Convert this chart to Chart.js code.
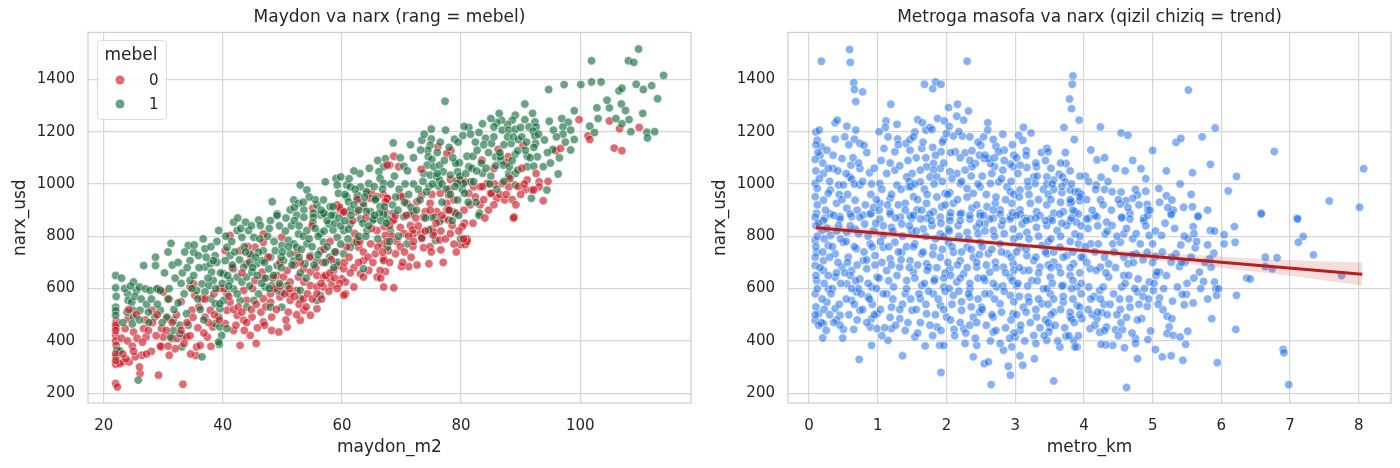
<!DOCTYPE html>
<html>
<head>
<meta charset="utf-8">
<script src="https://cdn.jsdelivr.net/npm/chart.js@4.4.1/dist/chart.umd.min.js"></script>
<style>
  html, body { margin: 0; padding: 0; background: #fff; }
  #wrap { position: relative; width: 1400px; height: 468px; }
  canvas { position: absolute; top: 0; }
</style>
</head>
<body>
<div id="wrap">
  <canvas id="areaChart" width="700" height="468" style="left:0"></canvas>
  <canvas id="metroChart" width="700" height="468" style="left:700px"></canvas>
</div>
<script>
// --- Ma'lumotlar (rasmdan taxminan o'qilgan) ---
// [maydon_m2, narx_usd], mebel = 0
const mebel0 = [
  [99.8,1246],[104.9,1241],[106.6,1211],[109.9,1216],[101.3,1184],[101.6,1170],[105.7,1137],[107.0,1127],
  [95.9,1127],[96.7,1136],[93.8,936],[88.9,874],[68.7,1106],[68.0,1072],[69.5,1066],[76.1,1142],[78.3,1127],
  [83.5,1091],[86.2,1132],[87.9,1104],[87.6,1081],[90.4,1148],[85.5,1059],[90.8,979],[91.9,977],[93.1,1008],
  [93.1,989],[77.9,958],[76.5,964],[75.1,960],[78.2,1017],[79.2,1012],[67.0,958],[67.6,945],[69.8,951],
  [70.9,926],[72.6,932],[73.4,958],[74.8,926],[72.0,894],[74.0,894],[75.9,894],[77.6,901],[78.8,939],
  [79.9,1015],[81.3,964],[80.7,1008],[82.1,989],[83.2,989],[84.4,1002],[84.9,964],[86.0,945],[86.9,1002],
  [88.0,989],[92.2,977],[85.5,920],[83.2,920],[67.3,892],[68.7,860],[69.8,834],[71.5,841],[72.0,809],
  [73.2,815],[75.1,828],[75.4,815],[73.7,873],[75.7,873],[77.1,866],[77.9,862],[78.5,841],[80.6,850],
  [81.0,790],[79.9,768],[80.7,768],[76.6,748],[74.6,695],[73.7,756],[71.9,761],[71.2,684],[70.0,684],
  [68.7,603],[67.3,665],[69.0,733],[67.0,714],[67.8,745],[66.7,771],[88.8,870],[55.1,907],[59.2,920],
  [59.7,901],[60.3,894],[64.2,964],[65.0,964],[65.9,951],[64.8,945],[67.6,1072],[67.6,945],[67.3,932],
  [63.6,913],[62.5,894],[22.1,475],[22.1,451],[22.0,421],[22.0,400],[22.1,383],[22.0,311],[22.0,237],
  [22.3,224],[23.3,320],[24.3,320],[23.7,332],[22.7,313],[24.1,485],[23.6,447],[25.0,434],[26.7,447],
  [27.1,415],[28.1,517],[29.7,447],[30.0,415],[30.6,485],[31.4,409],[31.0,345],[29.7,377],[26.4,345],
  [25.3,339],[26.1,275],[29.2,269],[33.3,234],[32.3,409],[33.4,418],[33.9,415],[35.6,377],[36.2,383],
  [35.5,344],[34.8,517],[35.3,574],[36.5,561],[34.5,606],[35.1,618],[29.2,599],[30.0,587],[37.9,517],
  [37.0,491],[38.3,453],[37.4,415],[38.0,379],[41.2,803],[40.4,745],[42.9,745],[46.8,809],[46.8,777],
  [45.4,758],[44.6,726],[44.0,695],[49.9,796],[52.4,733],[53.6,676],[54.7,663],[55.8,650],[56.9,644],
  [58.0,637],[58.6,669],[59.4,688],[60.3,676],[60.0,637],[60.6,580],[58.3,612],[56.9,606],[53.6,625],
  [54.7,612],[55.8,606],[53.6,517],[53.0,479],[55.8,523],[54.7,498],[48.2,440],[49.4,434],[50.8,453],
  [42.9,383],[45.6,390],[44.6,421],[46.8,472],[48.2,491],[46.8,561],[48.0,548],[49.6,568],[51.3,555],
  [51.3,580],[52.4,593],[49.1,650],[50.2,644],[51.3,625],[52.7,644],[50.8,669],[46.6,663],[45.4,631],
  [44.0,555],[43.5,593],[40.7,517],[41.2,548],[42.4,498],[43.5,479],[44.9,491],[40.4,466],[41.8,440],
  [62.0,777],[62.8,758],[64.8,771],[65.6,733],[67.0,707],[66.4,669],[67.3,803],[65.9,822],[63.6,707],
  [63.1,657],[63.6,644],[64.5,669],[65.9,644],[67.0,606],[60.6,625],[62.0,606],[60.3,574],[59.6,911],
  [60.3,893],[62.1,811],[62.6,786],[70.1,952],[68.6,862],[67.1,837],[70.4,811],[71.9,824],[73.4,792],
  [75.3,805],[76.4,786],[77.6,926],[79.1,888],[80.2,837],[83.6,990],[85.1,964],[87.3,939],[89.6,990],
  [91.1,1015],[73.3,1056],[77.6,1116],
  [22.0,460],[22.0,440],[22.0,350],[22.0,325],[23.0,410],[24.0,400],[24.8,380],[25.6,410],[26.5,395],
  [27.5,440],[28.2,470],[28.8,420],[29.5,380],[28.0,360],[26.0,300],[27.2,350],[23.2,350],[25.0,360],
  [29.0,500],[27.0,480],[25.5,500],[24.2,520],[30.5,440],[31.5,470],[32.2,500],[33.0,440],[34.0,470],
  [34.5,420],[35.0,490],[35.8,450],[36.8,430],[37.6,470],[38.6,500],[39.4,480],[33.5,390],[34.6,350],
  [32.0,370],[30.8,380],[36.0,530],[37.0,560],[38.5,580],[39.5,600],[33.0,550],[31.0,560],[40.2,600],
  [41.0,570],[41.8,520],[42.6,530],[43.2,510],[44.0,470],[44.8,520],[45.6,540],[46.4,510],[47.2,530],
  [48.0,580],[48.8,600],[49.6,610],[47.0,460],[45.8,450],[43.6,440],[42.2,460],[49.0,520],[48.4,640],
  [46.8,640],[45.0,600],[43.2,660],[41.6,680],[44.2,760],[47.6,720],[49.6,700],[50.4,580],[51.2,600],
  [52.0,570],[52.8,540],[53.5,560],[54.2,580],[55.0,560],[55.8,580],[56.5,620],[57.2,650],[58.0,660],
  [58.8,640],[59.6,620],[59.2,600],[57.8,590],[56.6,560],[54.0,530],[52.4,500],[51.0,510],[50.6,480],
  [53.0,700],[55.6,680],[56.8,700],[58.2,710],[59.0,740],[57.0,750],[54.6,720],[52.0,690],[55.0,840],
  [58.0,780],[60.4,700],[61.2,720],[62.0,680],[62.8,700],[63.6,740],[64.4,720],[65.2,700],[66.0,760],
  [66.8,740],[67.6,780],[68.4,800],[69.2,780],[69.8,760],[68.0,700],[66.5,640],[61.4,660],[60.8,760],
  [63.0,780],[65.0,830],[68.0,840],[69.0,880],[61.8,860],[64.0,870],[62.6,940],[70.5,740],[71.2,800],
  [72.0,780],[72.8,840],[74.0,820],[74.8,760],[75.8,850],[76.6,820],[77.4,790],[78.2,810],[78.8,770],
  [79.6,820],[70.8,880],[72.4,870],[74.8,900],[76.8,880],[78.0,900],[70.2,700],[71.6,720],[72.6,690],
  [75.0,740],[77.0,700],[79.2,740],[78.0,980],[80.5,900],[81.5,920],[82.4,950],[83.8,940],[84.6,900],
  [86.5,960],[87.6,960],[88.6,940],[89.2,920],[90.0,960],[90.6,1000],[92.6,1040],[82.0,850],[84.0,870],
  [81.0,780],[80.4,790],[85.6,1000],[88.2,1020],[90.2,1060],[94.6,1010]
];
// [maydon_m2, narx_usd], mebel = 1
const mebel1 = [
  [109.8,1516],[101.9,1471],[108.1,1471],[109.0,1465],[114.0,1415],[97.3,1380],[100.1,1380],[101.9,1390],
  [103.5,1390],[94.7,1361],[109.4,1381],[110.6,1361],[112.0,1376],[106.5,1356],[107.0,1366],[77.3,1316],
  [113.0,1326],[90.7,1306],[102.8,1291],[104.9,1291],[106.9,1306],[107.6,1281],[108.2,1246],[107.0,1230],
  [101.6,1221],[102.4,1197],[111.2,1198],[111.3,1176],[96.9,1250],[98.0,1236],[95.5,1206],[97.1,1218],
  [98.4,1206],[97.1,1190],[90.7,1246],[92.4,1237],[89.1,1263],[88.6,1244],[87.8,1228],[86.8,1244],
  [86.0,1234],[85.5,1218],[86.9,1206],[88.0,1206],[89.1,1209],[90.0,1216],[91.4,1218],[92.6,1218],
  [92.1,1202],[92.4,1183],[94.0,1168],[98.4,1130],[95.4,1132],[91.1,1066],[68.6,1157],[67.3,1097],
  [67.0,1066],[70.4,1068],[73.4,1167],[75.0,1172],[74.8,1148],[74.4,1129],[77.4,1206],[78.9,1171],
  [80.3,1185],[81.3,1216],[83.0,1197],[84.1,1175],[85.1,1155],[74.5,1104],[75.1,1094],[74.3,1072],
  [75.4,1066],[76.4,1072],[77.0,1047],[73.7,1040],[74.8,1034],[75.9,1028],[78.2,1034],[79.4,1047],
  [79.7,1081],[81.0,1106],[82.0,1106],[82.7,1129],[85.8,1104],[86.7,1091],[88.4,1155],[89.1,1114],
  [89.5,1127],[91.1,1106],[90.8,1129],[92.5,1155],[93.8,1066],[92.8,1104],[87.1,1072],[88.0,1040],
  [89.1,1040],[89.5,1053],[89.1,996],[88.0,1027],[92.2,1068],[94.4,977],[91.8,945],[96.3,1038],
  [81.6,1008],[83.1,888],[80.2,979],[80.4,1002],[79.4,1002],[76.2,992],[83.0,879],[79.9,790],
  [75.7,784],[73.4,796],[70.9,771],[67.6,758],[75.1,873],[78.8,892],[67.6,866],[68.1,822],[71.5,885],
  [48.3,932],[49.1,885],[53.0,996],[54.1,977],[51.9,939],[52.7,926],[53.6,901],[57.2,1008],[59.0,1021],
  [59.8,1027],[59.2,996],[60.8,996],[61.4,989],[59.4,964],[60.8,951],[62.5,945],[63.1,989],[64.5,1002],
  [66.2,1047],[66.4,1021],[65.6,945],[66.4,913],[67.0,1002],[55.8,920],[56.9,939],[58.0,913],[56.4,881],
  [58.6,881],[55.2,888],[61.4,901],[63.6,926],[64.8,894],[52.4,881],[51.3,901],[22.0,650],[22.0,603],
  [22.1,570],[22.0,529],[22.0,515],[22.0,498],[22.2,364],[22.1,339],[22.7,362],[24.0,580],[25.0,625],
  [24.1,555],[24.7,548],[25.5,593],[26.7,688],[28.7,720],[28.7,688],[31.3,773],[26.0,606],[27.0,599],
  [27.8,593],[28.9,599],[29.5,593],[24.9,517],[23.9,510],[25.0,491],[26.1,517],[27.5,510],[28.6,491],
  [29.5,517],[30.6,491],[31.7,479],[32.8,460],[33.9,504],[25.8,250],[31.2,415],[33.1,377],[36.5,339],
  [31.7,440],[32.8,428],[34.2,460],[35.6,593],[36.5,618],[34.5,631],[35.1,650],[34.5,707],[35.1,739],
  [35.9,726],[37.0,752],[37.0,682],[37.9,695],[38.7,726],[39.0,701],[39.3,822],[34.2,765],[35.2,767],
  [36.7,790],[38.4,707],[38.1,663],[38.4,631],[37.6,612],[37.0,587],[38.0,561],[38.7,542],[39.5,523],
  [39.3,491],[38.7,466],[39.5,453],[39.4,387],[39.8,421],[40.7,758],[41.2,726],[40.4,707],[41.8,854],
  [43.8,854],[42.4,822],[43.2,796],[44.3,822],[45.2,796],[46.0,862],[46.3,841],[48.0,860],[49.1,879],
  [46.8,745],[48.0,720],[48.8,745],[49.9,765],[51.0,784],[51.9,771],[52.7,809],[54.1,822],[55.2,873],
  [56.9,885],[53.6,873],[57.8,847],[42.4,644],[43.2,625],[41.8,599],[44.0,644],[44.9,663],[45.7,695],
  [46.6,707],[47.7,676],[49.1,688],[50.2,707],[51.3,733],[52.4,758],[54.1,771],[54.7,726],[56.4,745],
  [56.9,777],[59.2,796],[60.3,822],[61.4,847],[63.1,866],[64.2,822],[62.5,777],[61.4,758],[60.3,733],
  [59.2,701],[57.9,720],[55.8,707],[53.8,695],[51.9,707],[50.8,612],[49.9,587],[49.1,593],[48.2,612],
  [47.1,606],[46.0,580],[45.2,555],[44.0,529],[42.9,555],[42.4,580],[40.7,580],[40.1,555],[41.2,631],
  [40.1,657],[41.8,676],[43.5,682],[44.6,733],[46.0,739],[53.0,561],[53.0,593],[56.4,574],[55.8,555],
  [49.9,529],[48.0,529],[39.5,542],[40.7,447],[39.3,396],[63.6,676],[65.3,866],[67.0,885],[61.1,827],
  [58.5,824],[56.4,811],[55.1,852],[57.0,888],[58.5,913],[61.1,932],[62.6,958],[64.1,971],[65.6,939],
  [67.1,913],[68.6,888],[70.4,875],[71.6,911],[73.1,939],[74.6,990],[76.4,1015],[74.6,824],[76.4,856],
  [77.9,901],[79.4,939],[80.6,964],[82.1,1009],[83.6,1041],[81.3,1066],[79.1,1079],[86.6,1105],
  [88.1,1066],[64.1,895],[65.2,862],[66.3,888],
  [23.0,640],[23.5,600],[24.5,610],[25.2,570],[26.3,560],[27.2,540],[28.0,560],[29.0,540],[23.2,470],
  [24.8,465],[26.0,480],[27.6,470],[29.8,470],[30.8,560],[31.8,520],[32.5,545],[33.5,580],[31.0,600],
  [32.0,640],[33.0,620],[30.2,660],[31.5,690],[32.5,700],[33.2,660],[34.0,680],[34.8,600],[35.8,560],
  [36.2,520],[36.8,480],[37.5,640],[38.8,600],[39.6,660],[39.9,620],[36.0,680],[37.2,720],[38.0,760],
  [39.0,780],[33.6,740],[30.8,740],[40.5,800],[41.5,780],[42.0,740],[42.8,710],[43.6,760],[44.5,700],
  [45.0,680],[45.8,650],[46.5,620],[47.2,640],[47.8,600],[48.5,650],[49.5,620],[49.8,680],[48.6,780],
  [47.5,800],[46.2,790],[44.8,840],[43.0,830],[42.5,870],[47.8,830],[49.5,840],[49.8,720],[47.0,700],
  [45.5,720],[43.8,740],[41.6,690],[40.8,650],[41.0,610],[44.5,610],[50.5,820],[51.5,840],[52.0,860],
  [52.8,840],[53.5,800],[54.5,790],[55.5,830],[56.0,800],[57.0,820],[57.5,860],[58.2,880],[58.8,850],
  [59.5,870],[59.8,840],[56.5,900],[55.5,940],[54.5,950],[53.5,930],[52.0,910],[50.6,870],[51.0,760],
  [52.8,720],[53.2,750],[55.0,760],[56.0,730],[57.5,760],[58.8,740],[59.8,770],[57.2,700],[58.6,680],
  [55.3,690],[50.0,740],[51.6,690],[53.0,660],[54.0,640],[60.5,860],[61.5,880],[62.0,920],[62.8,900],
  [63.5,850],[64.5,840],[65.5,880],[66.5,860],[67.5,850],[68.5,920],[69.0,950],[69.6,980],[68.2,1000],
  [66.8,980],[65.4,990],[63.8,950],[62.2,980],[61.2,1020],[63.0,1040],[64.6,1060],[66.0,1090],[68.8,1030],
  [69.8,1100],[69.4,900],[61.0,790],[62.8,800],[64.0,800],[66.0,790],[68.0,780],[69.5,800],[60.5,960],
  [62.0,1050],[70.5,930],[71.2,960],[72.0,1000],[72.8,980],[73.6,1010],[74.2,970],[75.2,1000],[76.0,1040],
  [76.8,1000],[77.5,980],[78.2,960],[79.0,990],[79.8,1030],[78.6,1100],[77.2,1090],[76.0,1120],[75.0,1210],
  [73.2,1130],[72.0,1100],[71.0,1050],[70.6,1000],[72.5,900],[74.0,870],[76.8,930],[78.5,860],[79.6,880],
  [71.5,1150],[73.8,1190],[76.5,1160],[78.0,1140],[79.5,1160],[80.8,1040],[81.8,1060],[82.6,1050],
  [83.4,1080],[84.2,1060],[85.0,1030],[85.8,1070],[86.5,1120],[87.2,1150],[87.8,1180],[88.8,1180],
  [84.6,1120],[83.8,1150],[82.4,1160],[81.6,1190],[80.5,1220],[83.6,1230],[85.0,1250],[86.4,1270],
  [84.8,1000],[86.0,980],[87.2,1010],[88.6,1090],[89.6,1170],[82.5,930],[81.2,930],[85.5,1180],
  [90.2,1180],[91.0,1160],[91.6,1100],[92.2,1140],[93.0,1190],[94.5,1120],[95.0,1080],[96.0,1180],
  [97.5,1160],[99.0,1170],[96.5,1100],[94.8,1240],[99.0,1280],[92.0,1270],[103.0,1250],[104.5,1320],
  [106.0,1250],[110.5,1270],[112.5,1200],[108.5,1200]
];
// [metro_km, narx_usd]
const metroPts = [
  [0.18,1469],[0.59,1514],[0.60,1465],[0.65,1387],[0.66,1361],[0.78,1352],[0.68,1315],[2.30,1469],
  [1.68,1381],[1.80,1364],[1.84,1390],[1.92,1381],[3.84,1413],[3.83,1381],[3.79,1325],[3.82,1288],
  [3.93,1244],[3.86,1170],[3.71,1216],[1.19,1305],[1.12,1241],[1.11,1216],[1.28,1228],[1.29,1172],
  [1.41,1155],[1.47,1170],[1.54,1199],[1.58,1246],[1.65,1234],[1.70,1206],[1.76,1216],[1.79,1208],
  [1.87,1250],[1.97,1241],[2.03,1292],[2.16,1305],[2.32,1279],[2.15,1259],[2.25,1244],[2.10,1183],
  [2.23,1183],[1.96,1170],[2.00,1193],[2.60,1234],[2.60,1206],[2.50,1148],[2.72,1144],[2.84,1129],
  [2.76,1123],[1.09,1136],[1.25,1123],[1.47,1129],[1.64,1136],[1.92,1123],[2.13,1123],[2.27,1119],
  [2.37,1127],[0.38,1234],[0.41,1244],[0.55,1221],[0.68,1206],[0.38,1171],[0.66,1171],[0.74,1155],
  [0.80,1148],[0.10,1199],[0.15,1206],[0.12,1167],[0.18,1142],[0.16,1110],[0.09,1094],[0.26,1129],
  [0.35,1110],[0.48,1097],[0.61,1072],[0.74,1059],[0.88,1043],[0.59,1027],[0.35,1059],[0.21,1040],
  [0.09,1002],[0.12,983],[0.31,977],[0.43,996],[0.50,996],[0.62,1019],[0.74,996],[0.91,1000],
  [1.03,1002],[3.05,1186],[3.12,1216],[3.23,1195],[3.11,1167],[3.16,1127],[3.38,1120],[3.46,1136],
  [3.48,1123],[3.73,1120],[3.74,1078],[3.64,1037],[3.69,1027],[3.56,1015],[3.46,1027],[3.31,1066],
  [3.27,1027],[3.17,1063],[3.07,1072],[2.97,1066],[2.93,1076],[2.82,1053],[2.70,1066],[2.64,1078],
  [2.55,1097],[2.61,1097],[2.42,1078],[2.37,1066],[2.27,1053],[2.15,1040],[2.05,1047],[1.91,1059],
  [1.81,1078],[1.81,1053],[1.71,1066],[1.62,1053],[1.50,1040],[1.42,1027],[1.25,1053],[1.13,1040],
  [1.28,996],[1.45,989],[1.62,1008],[1.76,1027],[1.86,1027],[1.98,964],[2.05,967],[2.20,1002],
  [2.30,983],[2.39,964],[2.49,989],[2.64,1002],[2.76,1008],[2.88,989],[2.93,970],[3.07,977],
  [3.19,989],[3.29,1002],[3.41,979],[3.56,979],[3.68,967],[3.80,977],[3.73,1008],[0.09,951],
  [0.21,938],[0.28,964],[0.40,926],[0.55,907],[0.67,938],[0.79,881],[0.91,888],[1.03,926],[1.18,945],
  [1.30,920],[1.18,894],[1.40,926],[1.52,951],[1.57,901],[1.71,926],[1.81,894],[1.93,913],[2.10,926],
  [2.22,888],[2.37,907],[2.49,888],[2.59,913],[2.71,926],[2.78,901],[2.95,926],[3.07,901],[3.22,926],
  [3.31,894],[3.46,920],[3.56,888],[3.70,894],[3.80,926],[3.87,894],[0.11,888],[0.23,869],[0.45,875],
  [0.62,875],[1.49,869],[1.71,869],[2.05,875],[2.68,869],[2.93,875],[3.14,869],
  [0.09,873],[0.21,860],[0.31,885],[0.45,866],[0.60,885],[0.74,873],[0.89,885],[1.03,866],[1.18,885],
  [1.33,873],[1.47,879],[1.62,866],[1.76,885],[1.91,873],[2.05,860],[2.20,885],[2.34,866],[2.49,879],
  [2.63,866],[2.78,885],[2.93,866],[3.07,885],[3.22,866],[3.36,879],[3.51,866],[3.65,885],[3.80,860],
  [3.92,885],[0.10,841],[0.19,822],[0.31,803],[0.43,841],[0.55,815],[0.67,828],[0.81,847],[0.94,822],
  [1.08,803],[1.20,834],[1.35,847],[1.49,822],[1.66,828],[1.79,841],[1.91,809],[2.03,828],[2.17,841],
  [2.30,815],[2.44,834],[2.56,847],[2.68,822],[2.80,841],[2.97,828],[3.10,847],[3.17,815],[3.31,834],
  [3.46,841],[3.61,822],[3.75,841],[3.87,809],[0.09,784],[0.11,739],[0.21,707],[0.28,765],[0.38,733],
  [0.50,777],[0.57,720],[0.69,752],[0.79,707],[0.89,771],[0.96,726],[1.08,758],[1.18,714],[1.25,777],
  [1.35,739],[1.47,707],[1.54,771],[1.64,733],[1.71,695],[1.81,758],[1.91,720],[2.03,777],[2.10,739],
  [2.20,707],[2.30,758],[2.39,720],[2.49,777],[2.61,733],[2.71,701],[2.78,771],[2.88,733],[2.97,695],
  [3.07,758],[3.17,726],[3.27,707],[3.39,765],[3.46,733],[3.56,701],[3.65,758],[3.75,726],[3.85,695],
  [3.92,771],[0.09,688],[0.21,669],[0.11,631],[0.28,599],[0.38,644],[0.48,682],[0.55,618],[0.62,669],
  [0.74,637],[0.84,676],[0.91,606],[0.99,644],[1.13,669],[1.23,606],[1.32,682],[1.42,631],[1.52,663],
  [1.64,612],[1.74,682],[1.83,637],[1.96,606],[2.05,676],[2.15,625],[2.25,657],[2.34,599],[2.44,682],
  [2.56,631],[2.63,663],[2.73,606],[2.83,682],[2.93,644],[3.02,612],[3.12,669],[3.24,631],[3.36,682],
  [3.41,599],[3.51,644],[3.63,682],[3.70,612],[3.80,650],[3.90,606],[0.09,580],[0.26,548],[0.38,523],
  [0.14,504],[0.09,479],[0.21,466],[0.45,498],[0.62,555],[0.74,517],[0.69,587],[0.86,568],[0.99,504],
  [0.91,485],[1.13,580],[1.20,529],[1.32,485],[1.40,580],[1.50,517],[1.62,561],[1.71,504],[1.81,580],
  [1.91,536],[2.00,491],[2.10,574],[2.22,517],[2.34,568],[2.39,491],[2.51,529],[2.63,580],[2.68,491],
  [2.78,542],[2.93,574],[2.97,504],[3.12,529],[3.19,568],[3.31,491],[3.39,542],[3.51,580],[3.56,510],
  [3.70,548],[3.80,491],[3.90,536],[0.20,411],[0.50,444],[0.65,444],[0.49,411],[0.91,383],[0.73,329],
  [0.89,453],[0.99,447],[1.15,402],[1.20,447],[1.36,343],[1.54,415],[1.69,381],[1.86,453],[1.90,383],
  [1.96,383],[1.92,279],[2.11,444],[2.27,390],[2.39,339],[2.44,383],[2.55,313],[2.61,320],[2.65,233],
  [2.68,434],[2.83,364],[2.90,303],[2.93,269],[2.95,377],[3.00,415],[3.07,343],[3.11,307],[3.28,332],
  [3.46,402],[3.51,453],[3.56,247],[3.65,377],[3.74,418],[3.90,377],[3.85,402],[2.25,447],[3.07,440],
  [3.27,421],[3.49,434],
  [4.24,1218],[5.52,1359],[4.54,1195],[4.64,1186],[5.91,1214],[5.34,1159],[5.41,1174],[5.72,1180],
  [5.00,1128],[4.19,1092],[4.71,1090],[4.83,1058],[6.77,1124],[5.58,1043],[5.84,1075],[6.22,1029],
  [8.07,1058],[4.02,1030],[4.07,1009],[4.25,1026],[4.35,1009],[4.18,996],[4.17,979],[4.30,979],
  [4.41,970],[3.87,970],[3.92,970],[4.54,969],[4.75,979],[4.90,972],[4.78,958],[4.71,945],[4.61,936],
  [4.53,923],[4.24,939],[3.94,936],[3.82,932],[5.09,983],[5.20,955],[5.28,939],[4.92,922],[4.93,900],
  [5.45,911],[5.58,913],[5.27,888],[5.30,900],[5.66,879],[6.10,973],[6.58,889],[7.10,869],[7.57,935],
  [8.01,911],[3.84,900],[4.07,869],[4.19,875],[4.55,869],[4.67,888],[4.87,869],
  [6.58,885],[7.11,866],[7.19,799],[7.12,777],[7.34,729],[6.64,720],[6.81,718],[6.64,684],[6.74,676],
  [6.37,640],[6.42,637],[7.75,650],[6.22,574],[6.21,444],[6.90,367],[6.91,355],[6.98,233],[6.19,837],
  [6.20,777],[6.04,806],[6.04,771],[5.84,822],[5.80,767],[5.89,735],[5.83,714],[5.85,682],[5.68,663],
  [5.74,627],[5.90,625],[5.92,599],[5.93,574],[5.86,485],[5.94,317],[5.59,837],[5.52,790],[5.41,767],
  [5.62,756],[5.66,875],[5.27,883],[5.13,803],[5.34,733],[5.27,701],[5.39,684],[5.47,701],[5.20,650],
  [5.10,663],[5.05,650],[5.36,606],[5.49,578],[5.43,578],[5.29,552],[5.46,538],[5.59,545],[5.10,564],
  [5.15,519],[5.21,494],[5.28,485],[5.24,453],[5.21,428],[5.30,421],[5.40,415],[5.51,437],[5.48,387],
  [5.14,339],[5.27,343],[5.44,326],[5.04,367],[4.97,438],[4.93,405],[4.75,409],[4.75,390],[4.78,332],
  [4.62,222],[4.59,374],[4.42,383],[4.32,385],[4.25,387],[3.87,377],[4.09,447],[4.23,433],[4.33,453],
  [4.46,443],[4.56,443],[4.54,470],[4.84,485],[4.92,532],[4.67,529],[4.53,520],[4.19,485],[3.97,485],
  [3.82,485],[4.26,508],[4.29,540],[4.12,501],[4.07,606],[4.15,570],[4.23,593],[4.43,580],[4.55,606],
  [4.78,587],[4.86,570],[5.01,593],[4.95,625],[4.79,637],[4.58,650],[4.36,644],[4.28,606],[4.09,676],
  [4.24,682],[4.36,695],[4.65,650],[5.06,663],[3.84,631],[3.94,529],[3.99,720],[4.10,771],[4.21,771],
  [4.31,809],[4.42,771],[4.53,777],[4.58,809],[4.71,790],[4.82,771],[4.95,803],[5.00,771],[4.92,739],
  [4.64,695],[4.76,733],[4.70,729],[5.04,723],[3.89,854],[4.04,866],[4.16,879],[4.33,854],[4.41,841],
  [4.55,873],[4.67,866],[4.87,860],[4.93,879],
  [0.10,1150],[0.13,1120],[0.20,1080],[0.28,1060],[0.42,1050],[0.10,1050],[0.15,1020],[0.30,1010],
  [0.44,960],[0.12,920],[0.24,900],[0.36,880],[0.48,940],[0.14,850],[0.26,830],[0.40,820],[0.12,800],
  [0.22,790],[0.34,760],[0.46,790],[0.10,760],[0.20,740],[0.30,720],[0.42,700],[0.09,720],[0.16,680],
  [0.28,650],[0.40,660],[0.10,650],[0.22,620],[0.34,600],[0.46,620],[0.12,600],[0.19,560],[0.32,580],
  [0.44,540],[0.10,530],[0.22,520],[0.30,500],[0.40,480],[0.09,500],[0.18,470],[0.14,460],[0.45,460],
  [0.25,440],[0.36,470],[0.52,1180],[0.58,1150],[0.64,1100],[0.72,1080],[0.84,1120],[0.95,1060],
  [0.54,1040],[0.66,1000],[0.78,1010],[0.90,960],[0.98,940],[0.56,960],[0.70,900],[0.82,920],[0.94,910],
  [0.60,840],[0.72,810],[0.86,800],[0.97,850],[0.54,780],[0.66,760],[0.80,740],[0.92,760],[0.56,700],
  [0.70,690],[0.84,710],[0.96,690],[0.60,650],[0.72,600],[0.86,620],[0.98,600],[0.54,560],[0.66,540],
  [0.78,520],[0.92,540],[0.58,500],[0.70,480],[0.84,470],[0.95,500],[0.62,600],[0.76,580],[0.88,560],
  [0.52,660],[0.68,630],[1.02,1200],[1.15,1180],[1.30,1150],[1.44,1090],[1.05,1090],[1.18,1080],
  [1.32,1070],[1.46,1010],[1.06,980],[1.20,960],[1.34,980],[1.48,990],[1.02,900],[1.14,920],[1.26,870],
  [1.40,900],[1.08,840],[1.22,820],[1.36,800],[1.46,840],[1.04,780],[1.16,760],[1.30,740],[1.42,760],
  [1.06,700],[1.20,690],[1.34,710],[1.46,680],[1.02,640],[1.16,630],[1.28,650],[1.42,600],[1.08,580],
  [1.22,560],[1.36,540],[1.48,560],[1.04,520],[1.18,490],[1.32,520],[1.44,470],[1.10,450],[1.26,460],
  [1.40,440],[1.06,420],[1.52,1180],[1.66,1160],[1.80,1140],[1.94,1160],[1.56,1100],[1.70,1100],
  [1.84,1110],[1.96,1080],[1.54,1000],[1.68,980],[1.82,1000],[1.94,1010],[1.58,940],[1.72,960],
  [1.86,950],[1.98,920],[1.52,880],[1.64,900],[1.78,860],[1.92,850],[1.56,820],[1.70,800],[1.84,790],
  [1.96,800],[1.52,760],[1.66,740],[1.80,730],[1.94,750],[1.58,690],[1.72,670],[1.86,680],[1.98,660],
  [1.54,640],[1.68,620],[1.82,630],[1.96,640],[1.60,580],[1.74,590],[1.88,560],[1.98,590],[1.56,520],
  [1.70,540],[1.84,500],[1.96,520],[1.62,470],[1.76,460],[1.92,440],[1.58,430],[1.80,420],[2.04,1220],
  [2.18,1200],[2.34,1180],[2.46,1160],[2.06,1120],[2.20,1100],[2.34,1090],[2.48,1110],[2.08,1020],
  [2.22,1010],[2.36,1030],[2.46,1000],[2.02,960],[2.16,940],[2.30,950],[2.44,920],[2.06,890],[2.20,860],
  [2.34,880],[2.48,850],[2.04,820],[2.18,800],[2.32,790],[2.46,810],[2.08,760],[2.22,740],[2.36,750],
  [2.48,730],[2.02,700],[2.16,690],[2.30,680],[2.44,700],[2.06,650],[2.20,640],[2.34,620],[2.46,640],
  [2.04,600],[2.18,590],[2.32,580],[2.46,560],[2.08,540],[2.22,550],[2.36,530],[2.48,510],[2.06,480],
  [2.20,470],[2.34,460],[2.44,470],[2.12,420],[2.28,430],[2.42,410],[2.54,1180],[2.68,1170],[2.82,1190],
  [2.96,1150],[2.56,1110],[2.70,1100],[2.84,1090],[2.98,1110],[2.52,1030],[2.66,1040],[2.80,1020],
  [2.94,1010],[2.58,960],[2.72,950],[2.86,940],[2.98,960],[2.54,880],[2.68,900],[2.82,860],[2.96,890],
  [2.56,820],[2.70,800],[2.84,810],[2.98,790],[2.52,760],[2.66,750],[2.80,740],[2.94,720],[2.58,690],
  [2.72,680],[2.86,660],[2.98,670],[2.54,640],[2.68,620],[2.82,610],[2.96,630],[2.56,580],[2.70,560],
  [2.84,590],[2.98,550],[2.52,520],[2.66,500],[2.80,510],[2.94,480],[2.58,460],[2.72,440],[2.86,450],
  [2.98,430],[2.64,400],[2.78,390],[2.92,410],[3.02,1100],[3.16,1110],[3.30,1080],[3.44,1090],[3.04,1040],
  [3.18,1010],[3.32,1030],[3.46,1000],[3.06,950],[3.20,960],[3.34,940],[3.48,960],[3.02,880],[3.16,860],
  [3.30,870],[3.44,860],[3.06,800],[3.20,790],[3.34,800],[3.48,780],[3.02,740],[3.16,750],[3.30,720],
  [3.44,740],[3.06,680],[3.20,670],[3.34,660],[3.48,690],[3.04,620],[3.18,610],[3.32,630],[3.46,600],
  [3.06,570],[3.20,550],[3.34,560],[3.48,540],[3.02,500],[3.16,510],[3.30,520],[3.44,480],[3.08,460],
  [3.22,470],[3.36,450],[3.48,470],[3.14,400],[3.30,390],[3.42,420],[3.52,1060],[3.66,1080],[3.80,1050],
  [3.94,1030],[3.54,1000],[3.68,990],[3.82,1000],[3.96,960],[3.52,940],[3.66,930],[3.80,940],[3.94,950],
  [3.54,860],[3.68,850],[3.82,870],[3.96,840],[3.52,790],[3.66,800],[3.80,780],[3.94,800],[3.56,740],
  [3.70,720],[3.84,740],[3.96,720],[3.52,680],[3.66,660],[3.80,680],[3.94,660],[3.54,620],[3.68,610],
  [3.82,600],[3.96,620],[3.56,560],[3.70,570],[3.84,560],[3.96,580],[3.52,500],[3.66,520],[3.80,510],
  [3.94,500],[3.58,460],[3.72,450],[3.86,470],[3.62,400],[3.78,420],[3.92,420],[4.04,940],[4.12,900],
  [4.28,920],[4.40,900],[4.50,940],[4.64,910],[4.80,920],[4.96,900],[5.10,930],[5.22,910],[4.06,830],
  [4.20,840],[4.34,820],[4.48,800],[4.62,830],[4.76,810],[4.90,840],[5.04,820],[5.18,850],[5.32,830],
  [5.46,800],[5.60,810],[4.02,760],[4.16,740],[4.30,720],[4.44,740],[4.58,720],[4.72,700],[4.86,710],
  [5.00,700],[5.14,740],[5.28,720],[5.42,700],[5.56,720],[4.04,700],[4.18,670],[4.32,660],[4.46,680],
  [4.60,620],[4.74,600],[4.88,600],[5.02,620],[5.16,600],[4.10,560],[4.24,560],[4.38,540],[4.52,560],
  [4.66,560],[4.80,540],[4.94,560],[5.08,540],[4.06,520],[4.20,510],[4.34,500],[4.48,500],[4.62,490],
  [4.78,480],[4.16,460],[4.30,440],[4.50,420],[4.70,430],[5.60,640],[5.70,600],[5.80,560],[5.96,600],
  [5.50,620],[5.76,700],[5.64,780],[5.90,820],[5.80,900],[5.56,960],[5.40,1000],[5.20,1050],[4.90,1020],
  [4.60,1050],[4.30,1100],[4.10,1130],[4.46,1060]
];
// Trend chizig'i va ishonch oralig'i (rasmdan o'qilgan)
const trendX = [0.1, 8.05];
const trendY = [833, 655];
const bandX  = [0.1, 1, 2, 3, 4, 5, 6, 7, 8.05];
const bandHi = [851, 826, 801, 777, 756, 738, 723, 709, 699];
const bandLo = [815, 800, 780, 759, 736, 709, 679, 649, 611];
// O'q belgilari
const areaTicks  = [20, 40, 60, 80, 100];
const metroTicks = [0, 1, 2, 3, 4, 5, 6, 7, 8];
const priceTicks = [200, 400, 600, 800, 1000, 1200, 1400];

const FONT = "'DejaVu Sans', sans-serif";
const INK = '#262626';
const GRID = '#d6d6d6';
const RED = 'rgba(200,20,30,0.62)';
const GREEN = 'rgba(15,105,55,0.62)';
const BLUE = 'rgba(25,105,230,0.52)';

const toXY = arr => arr.map(p => ({ x: p[0], y: p[1] }));

// ramka (4 tomon)
const framePlugin = {
  id: 'frame',
  afterDraw(chart) {
    const { ctx, chartArea: a } = chart;
    ctx.save();
    ctx.strokeStyle = '#cfcfcf';
    ctx.lineWidth = 1.25;
    ctx.strokeRect(a.left, a.top, a.right - a.left, a.bottom - a.top);
    ctx.restore();
  }
};

// mebel legendasi (chap grafik ichida)
const mebelLegend = {
  id: 'mebelLegend',
  afterDraw(chart) {
    const ctx = chart.ctx;
    ctx.save();
    ctx.beginPath();
    ctx.roundRect(97.5, 40.5, 69, 79, 4);
    ctx.fillStyle = 'rgba(255,255,255,0.85)';
    ctx.fill();
    ctx.strokeStyle = '#d9d9d9';
    ctx.lineWidth = 1;
    ctx.stroke();
    ctx.fillStyle = INK;
    ctx.textBaseline = 'middle';
    ctx.textAlign = 'center';
    ctx.font = '17px ' + FONT;
    ctx.fillText('mebel', 131, 56);
    ctx.font = '15px ' + FONT;
    ctx.textAlign = 'left';
    [[RED, '0', 80], [GREEN, '1', 104]].forEach(([c, t, y]) => {
      ctx.beginPath();
      ctx.arc(120, y, 4.5, 0, Math.PI * 2);
      ctx.fillStyle = c;
      ctx.fill();
      ctx.fillStyle = INK;
      ctx.fillText(t, 149, y + 1);
    });
    ctx.restore();
  }
};

function xAxis(min, max, ticks, label) {
  return {
    type: 'linear', min, max,
    afterBuildTicks: s => { s.ticks = ticks.map(v => ({ value: v })); },
    afterFit: s => { s.height = 65; },
    grid: { color: GRID, lineWidth: 1.25, drawTicks: false },
    border: { display: false },
    ticks: { font: { family: FONT, size: 15 }, color: INK, padding: 14, maxRotation: 0, callback: v => String(v) },
    title: { display: true, text: label, color: INK, font: { family: FONT, size: 17 }, padding: { top: 0, bottom: 10 } }
  };
}

function yAxis() {
  return {
    type: 'linear', min: 162.6, max: 1579.5,
    afterBuildTicks: s => { s.ticks = priceTicks.map(v => ({ value: v })); },
    afterFit: s => { s.width = 88; },
    grid: { color: GRID, lineWidth: 1.25, drawTicks: false },
    border: { display: false },
    ticks: { font: { family: FONT, size: 15 }, color: INK, padding: 13, callback: v => String(v) },
    title: { display: true, text: 'narx_usd', color: INK, font: { family: FONT, size: 17 }, padding: { top: 10, bottom: 0 } }
  };
}

function titleOpts(text) {
  return {
    display: true, text, color: INK, fullSize: false,
    font: { family: FONT, size: 17, weight: 'normal' },
    padding: { top: 7, bottom: 5 }
  };
}

// 1. Maydon va narx
const areaData = [];
const areaColors = [];
const n = Math.max(mebel0.length, mebel1.length);
for (let i = 0; i < n; i++) {
  if (mebel1[i]) { areaData.push({ x: mebel1[i][0], y: mebel1[i][1] }); areaColors.push(GREEN); }
  if (mebel0[i]) { areaData.push({ x: mebel0[i][0], y: mebel0[i][1] }); areaColors.push(RED); }
}

new Chart(document.getElementById('areaChart'), {
  type: 'scatter',
  data: {
    datasets: [{
      label: 'mebel',
      data: areaData,
      backgroundColor: areaColors,
      borderColor: 'rgba(255,255,255,0.85)',
      borderWidth: 0.6,
      pointRadius: 4.2,
      pointHoverRadius: 4.2
    }]
  },
  options: {
    responsive: false,
    animation: false,
    layout: { padding: { left: 0, right: 9, top: 0, bottom: 0 } },
    plugins: { legend: { display: false }, tooltip: { enabled: false }, title: titleOpts('Maydon va narx (rang = mebel)') },
    scales: { x: xAxis(17.36, 118.6, areaTicks, 'maydon_m2'), y: yAxis() }
  },
  plugins: [framePlugin, mebelLegend]
});

// 2. Metro masofasi va narx
new Chart(document.getElementById('metroChart'), {
  type: 'scatter',
  data: {
    datasets: [
      {
        label: 'narx',
        data: toXY(metroPts),
        backgroundColor: BLUE,
        borderColor: 'rgba(255,255,255,0.85)',
        borderWidth: 0.6,
        pointRadius: 4.2,
        pointHoverRadius: 4.2,
        order: 4
      },
      {
        type: 'line', label: 'ci_hi',
        data: bandX.map((x, i) => ({ x, y: bandHi[i] })),
        borderWidth: 0, pointRadius: 0, fill: false, tension: 0.3, order: 3
      },
      {
        type: 'line', label: 'ci_lo',
        data: bandX.map((x, i) => ({ x, y: bandLo[i] })),
        borderWidth: 0, pointRadius: 0, tension: 0.3,
        fill: '-1', backgroundColor: 'rgba(190,30,30,0.15)', order: 2
      },
      {
        type: 'line', label: 'trend',
        data: trendX.map((x, i) => ({ x, y: trendY[i] })),
        borderColor: '#b3201e', borderWidth: 3, pointRadius: 0, fill: false, order: 1
      }
    ]
  },
  options: {
    responsive: false,
    animation: false,
    layout: { padding: { left: 0, right: 9, top: 0, bottom: 0 } },
    plugins: {
      legend: { display: false }, tooltip: { enabled: false },
      filler: { drawTime: 'beforeDatasetDraw' },
      title: titleOpts('Metroga masofa va narx (qizil chiziq = trend)')
    },
    scales: { x: xAxis(-0.306, 8.468, metroTicks, 'metro_km'), y: yAxis() }
  },
  plugins: [framePlugin]
});
</script>
</body>
</html>
